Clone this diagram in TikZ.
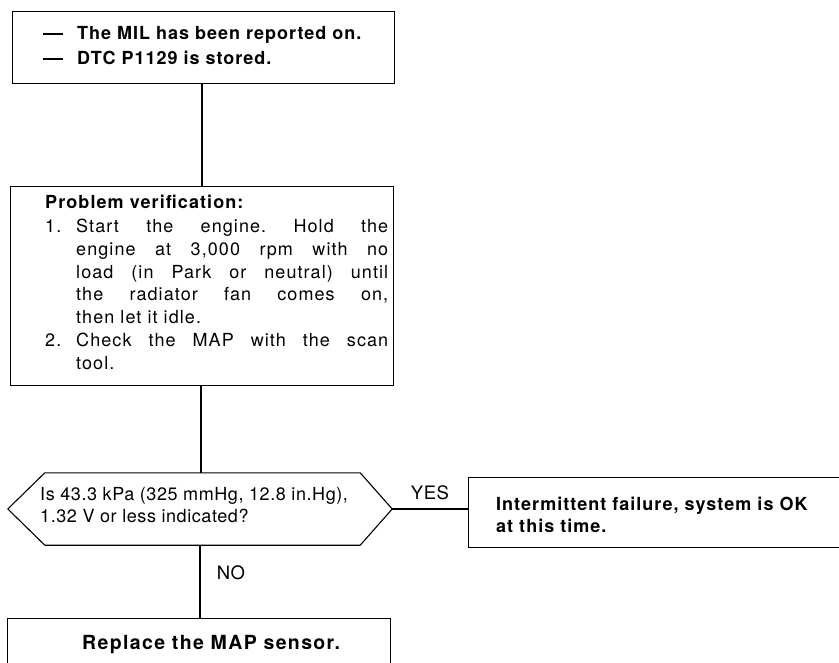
\documentclass[tikz,border=0pt]{standalone}
\usepackage{fontspec}
\setmainfont{TeX Gyre Heros}
\usetikzlibrary{calc}
\frenchspacing
\begin{document}
\begin{tikzpicture}[x=1pt,y=-1pt,
  box/.style={draw, line width=1.1pt, inner sep=0pt, anchor=north west},
  conn/.style={draw, line width=1.1pt},
  boldtxt/.style={font=\fontsize{18}{25}\selectfont\bfseries\addfontfeature{LetterSpace=5.5}, inner sep=0pt, align=left},
  plaintxt/.style={font=\fontsize{18}{23}\selectfont\addfontfeature{LetterSpace=6}, inner sep=0pt, align=left},
  lbl/.style={font=\fontsize{18.5}{22}\selectfont\addfontfeature{LetterSpace=3}, inner sep=0pt}]
\useasboundingbox (0,0) rectangle (839,663);
\clip (0,0) rectangle (839,663);
% boxes
\node[box, minimum width=382pt, minimum height=72pt] (b1) at (12,11) {};
\node[box, minimum width=383pt, minimum height=199pt] (b2) at (10,186) {};
\node[minimum width=384pt, minimum height=72pt, inner sep=0pt] (hex) at (200,509) {};
\draw[line width=1.1pt] (hex.west) -- ([xshift=37pt]hex.north west) -- ([xshift=-32pt]hex.north east)
  -- (hex.east) -- ([xshift=-32pt]hex.south east) -- ([xshift=37pt]hex.south west) -- cycle;
\node[box, minimum width=420pt, minimum height=70pt] (b3) at (468,477) {};
\node[box, minimum width=383pt, minimum height=80pt] (b4) at (7,618) {};
% texts
\node[boldtxt, anchor=base west] (t1) at (43,65) {\rule[0.3em]{20pt}{2pt}\hspace{14pt}The MIL has been reported on.\\
\rule[0.3em]{20pt}{2pt}\hspace{14pt}DTC P1129 is stored.};
\node[plaintxt, anchor=base west] (t2) at (45,370) {\textbf{Problem verification:}\\
\makebox[31pt][l]{1.}\makebox[312pt][s]{Start the engine. Hold the}\\
\hspace*{31pt}\makebox[312pt][s]{engine at 3,000 rpm with no}\\
\hspace*{31pt}\makebox[312pt][s]{load (in Park or neutral) until}\\
\hspace*{31pt}\makebox[312pt][s]{the radiator fan comes on,}\\
\hspace*{31pt}then let it idle.\\
\makebox[31pt][l]{2.}\makebox[312pt][s]{Check the MAP with the scan}\\
\hspace*{31pt}tool.};
\node[plaintxt, anchor=base west, font=\fontsize{18}{21.5}\selectfont\addfontfeature{LetterSpace=3.2}] (t3) at (40,522) {Is 43.3 kPa (325 mmHg, 12.8 in.Hg),\\1.32 V or less indicated?};
\node[boldtxt, anchor=base west, font=\fontsize{18}{22}\selectfont\bfseries\addfontfeature{LetterSpace=5.7}] (t4) at (496,532) {Intermittent failure, system is OK\\at this time.};
\node[boldtxt, anchor=base west, font=\fontsize{19.5}{22}\selectfont\bfseries\addfontfeature{LetterSpace=7}] (t5) at (82,649) {Replace the MAP sensor.};
% connectors
\draw[conn] (b1.south -| 202,0) -- (b2.north -| 202,0);
\draw[conn] (b2.south -| 201,0) -- (hex.north -| 201,0);
\draw[conn] (hex.east) -- (hex.east -| b3.west);
\draw[conn] (hex.south -| 200,0) -- (b4.north -| 200,0);
\node[lbl] (yes) at (430,493) {YES};
\node[lbl] (no) at (231,573) {NO};
\end{tikzpicture}
\end{document}
